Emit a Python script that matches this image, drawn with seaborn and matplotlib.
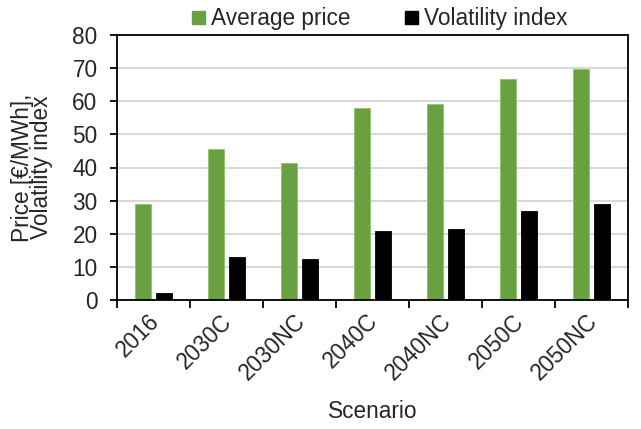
import matplotlib
matplotlib.use("Agg")
import matplotlib.pyplot as plt
import matplotlib.transforms as mtransforms
import seaborn as sns
import pandas as pd
import numpy as np
from matplotlib.patches import Patch

scenarios = ["2016", "2030C", "2030NC", "2040C", "2040NC", "2050C", "2050NC"]
avg_price = [29.0, 45.6, 41.3, 58.0, 59.3, 66.8, 69.6]
volatility = [2.2, 13.1, 12.5, 20.8, 21.5, 27.0, 29.1]
series_names = ["Average price", "Volatility index"]
colors = ["#68A042", "#000000"]

df = pd.DataFrame({
    "Scenario": scenarios * 2,
    "value": avg_price + volatility,
    "series": [series_names[0]] * len(scenarios) + [series_names[1]] * len(scenarios),
})

sns.set_style("white")
plt.rcParams["font.family"] = ["Liberation Sans", "DejaVu Sans"]
FS = 16.3

fig = plt.figure(figsize=(6.41, 4.29), dpi=100)
ax = fig.add_axes([117 / 641, 1 - 300 / 429, (628 - 117) / 641, (300 - 35) / 429])

sns.barplot(data=df, x="Scenario", y="value", hue="series", palette=colors,
            width=0.58, gap=0.24, ax=ax, legend=False, saturation=1)

for i, p in enumerate(ax.patches):
    if i < len(scenarios):
        p.set_edgecolor("#8cc26a")
        p.set_linewidth(0.6)
    else:
        p.set_edgecolor("#000000")
        p.set_linewidth(0.6)

ax.set_ylim(0, 80)
ax.set_xlim(-0.5, len(scenarios) - 0.5)
ax.set_yticks(np.arange(0, 81, 10))
ax.yaxis.grid(True, color="#d9d9d9", linewidth=1.5)
ax.set_axisbelow(True)

for s in ax.spines.values():
    s.set_visible(True)
    s.set_color("black")
    s.set_linewidth(1.3)

ax.tick_params(axis="y", which="major", direction="out", length=5, width=1.3,
               labelsize=FS, pad=9, left=True, color="black")
ax.set_xticks(np.arange(len(scenarios)))
ax.set_xticklabels(scenarios, rotation=45, ha="right", rotation_mode="anchor")
ax.tick_params(axis="x", which="major", length=0, labelsize=FS, pad=7)
offset = mtransforms.ScaledTranslation(-6 / 100, 0, fig.dpi_scale_trans)
for lab in ax.get_xticklabels():
    lab.set_transform(lab.get_transform() + offset)
ax.set_xticks(np.arange(-0.5, len(scenarios) + 0.5, 1), minor=True)
ax.tick_params(axis="x", which="minor", direction="out", length=6, width=1.3,
               bottom=True, color="black")

ax.set_xlabel("Scenario", fontsize=FS, labelpad=11)
ax.set_ylabel("Price [€/MWh],\nVolatility index", fontsize=FS, labelpad=14,
              linespacing=0.78)

handles = [Patch(facecolor=c, edgecolor=c) for c in colors]
fig.legend(handles, series_names, loc="center", bbox_to_anchor=(380 / 641, 1 - 19 / 429),
           ncol=2, frameon=False, fontsize=FS, handlelength=0.55, handleheight=0.55,
           handletextpad=0.3, columnspacing=2.4, borderpad=0)

fig.savefig("out.png", dpi=100)
